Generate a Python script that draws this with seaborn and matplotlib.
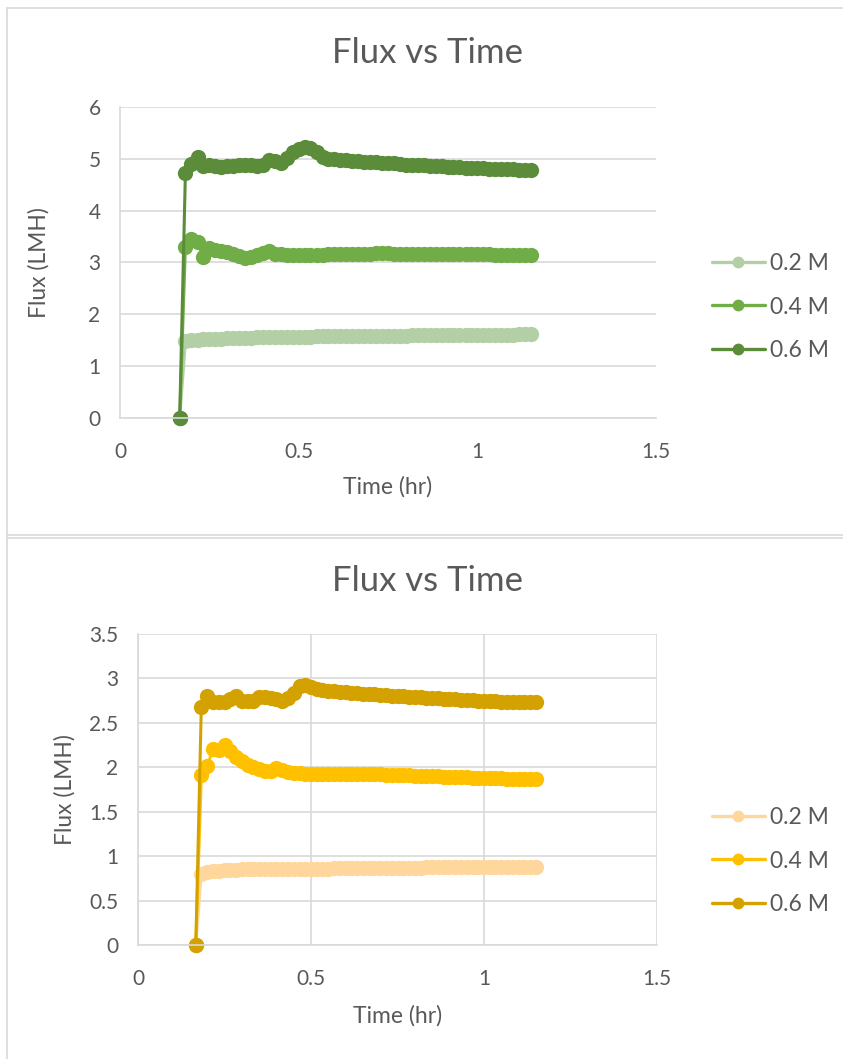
import seaborn as sns
import matplotlib.pyplot as plt
from matplotlib.lines import Line2D
import pandas as pd

# time (hr), one reading per minute from 10 to 69 min
time_hr = [0.167, 0.183, 0.200, 0.217, 0.233, 0.250, 0.267, 0.283, 0.300, 0.317,
           0.333, 0.350, 0.367, 0.383, 0.400, 0.417, 0.433, 0.450, 0.467, 0.483,
           0.500, 0.517, 0.533, 0.550, 0.567, 0.583, 0.600, 0.617, 0.633, 0.650,
           0.667, 0.683, 0.700, 0.717, 0.733, 0.750, 0.767, 0.783, 0.800, 0.817,
           0.833, 0.850, 0.867, 0.883, 0.900, 0.917, 0.933, 0.950, 0.967, 0.983,
           1.000, 1.017, 1.033, 1.050, 1.067, 1.083, 1.100, 1.117, 1.133, 1.150]

labels = ['0.2 M', '0.4 M', '0.6 M']

# top chart (green)
top_02 = [0, 1.48, 1.50, 1.51, 1.52, 1.52, 1.53, 1.53, 1.54, 1.54,
          1.55, 1.55, 1.55, 1.56, 1.56, 1.56, 1.56, 1.57, 1.57, 1.57,
          1.57, 1.57, 1.57, 1.58, 1.58, 1.58, 1.58, 1.58, 1.58, 1.58,
          1.58, 1.59, 1.59, 1.59, 1.59, 1.59, 1.59, 1.59, 1.59, 1.60,
          1.60, 1.60, 1.60, 1.60, 1.60, 1.60, 1.60, 1.61, 1.61, 1.61,
          1.61, 1.61, 1.61, 1.61, 1.61, 1.61, 1.61, 1.62, 1.62, 1.62]
top_04 = [0, 3.30, 3.45, 3.40, 3.10, 3.28, 3.25, 3.23, 3.20, 3.17,
          3.13, 3.09, 3.11, 3.14, 3.18, 3.22, 3.17, 3.16, 3.15, 3.15,
          3.15, 3.15, 3.15, 3.15, 3.15, 3.16, 3.16, 3.16, 3.16, 3.17,
          3.17, 3.17, 3.17, 3.18, 3.18, 3.18, 3.17, 3.17, 3.17, 3.17,
          3.17, 3.17, 3.17, 3.17, 3.16, 3.16, 3.16, 3.16, 3.16, 3.16,
          3.16, 3.16, 3.16, 3.15, 3.15, 3.15, 3.15, 3.15, 3.15, 3.15]
top_06 = [0, 4.72, 4.90, 5.03, 4.87, 4.88, 4.86, 4.85, 4.86, 4.87,
          4.88, 4.88, 4.89, 4.86, 4.88, 4.98, 4.95, 4.92, 5.02, 5.13,
          5.19, 5.22, 5.20, 5.13, 5.03, 5.00, 4.99, 4.98, 4.97, 4.96,
          4.95, 4.94, 4.94, 4.93, 4.92, 4.91, 4.91, 4.90, 4.89, 4.89,
          4.88, 4.88, 4.87, 4.87, 4.86, 4.85, 4.85, 4.84, 4.83, 4.83,
          4.82, 4.82, 4.81, 4.81, 4.80, 4.80, 4.80, 4.79, 4.79, 4.79]

# bottom chart (yellow)
bot_02 = [0, 0.80, 0.82, 0.83, 0.83, 0.84, 0.84, 0.84, 0.85, 0.85,
          0.85, 0.85, 0.85, 0.86, 0.86, 0.86, 0.86, 0.86, 0.86, 0.86,
          0.86, 0.86, 0.86, 0.86, 0.87, 0.87, 0.87, 0.87, 0.87, 0.87,
          0.87, 0.87, 0.87, 0.87, 0.87, 0.87, 0.87, 0.87, 0.87, 0.87,
          0.88, 0.88, 0.88, 0.88, 0.88, 0.88, 0.88, 0.88, 0.88, 0.88,
          0.88, 0.88, 0.88, 0.88, 0.88, 0.88, 0.88, 0.88, 0.88, 0.88]
bot_04 = [0, 1.91, 2.01, 2.21, 2.19, 2.25, 2.18, 2.12, 2.07, 2.03,
          2.00, 1.98, 1.96, 1.96, 1.99, 1.97, 1.95, 1.94, 1.94, 1.93,
          1.93, 1.93, 1.93, 1.93, 1.93, 1.92, 1.92, 1.92, 1.92, 1.92,
          1.92, 1.92, 1.92, 1.91, 1.91, 1.91, 1.91, 1.91, 1.90, 1.90,
          1.90, 1.90, 1.90, 1.89, 1.89, 1.89, 1.89, 1.89, 1.88, 1.88,
          1.88, 1.88, 1.88, 1.88, 1.87, 1.87, 1.87, 1.87, 1.87, 1.87]
bot_06 = [0, 2.68, 2.80, 2.73, 2.73, 2.74, 2.77, 2.80, 2.75, 2.75,
          2.75, 2.79, 2.79, 2.78, 2.77, 2.75, 2.78, 2.84, 2.91, 2.93,
          2.90, 2.88, 2.87, 2.86, 2.86, 2.85, 2.85, 2.84, 2.84, 2.83,
          2.83, 2.82, 2.81, 2.81, 2.80, 2.80, 2.80, 2.79, 2.79, 2.79,
          2.78, 2.78, 2.78, 2.77, 2.77, 2.77, 2.76, 2.76, 2.76, 2.75,
          2.75, 2.75, 2.75, 2.74, 2.74, 2.74, 2.74, 2.73, 2.73, 2.73]

green = {'0.2 M': '#B2CFA5', '0.4 M': '#70AD47', '0.6 M': '#5A8C3A'}
yellow = {'0.2 M': '#FFD79C', '0.4 M': '#FFC000', '0.6 M': '#D4A200'}

sns.set_style('white')
plt.rcParams['font.family'] = ['Lato', 'DejaVu Sans']
txt = '#595959'
grid = '#D9D9D9'


def long_df(series):
    rows = []
    for lab, vals in zip(labels, series):
        for t, v in zip(time_hr, vals):
            rows.append({'Time': t, 'Flux': v, 'Conc': lab})
    return pd.DataFrame(rows)


fig = plt.figure(figsize=(8.43, 10.59), dpi=100)

# chart frames
fig.add_artist(Line2D([7/843, 1], [1-8/1059, 1-8/1059], color=grid, lw=1.2))
fig.add_artist(Line2D([7/843, 7/843], [1-8/1059, 0], color=grid, lw=1.2))
fig.add_artist(Line2D([7/843, 1], [1-535/1059, 1-535/1059], color=grid, lw=1.2))
fig.add_artist(Line2D([7/843, 1], [1-538/1059, 1-538/1059], color=grid, lw=1.2))

charts = [
    dict(series=[top_02, top_04, top_06], pal=green, rect=[120/843, 1-418/1059, 536/843, 311/1059],
         ymax=6, yticks=[0, 1, 2, 3, 4, 5, 6], vgrid=False, title_y=1-53/1059,
         leg_y=1-307/1059, ylab_x=-0.132, xlab_y=-0.186),
    dict(series=[bot_02, bot_04, bot_06], pal=yellow, rect=[138/843, 1-945/1059, 519/843, 311/1059],
         ymax=3.5, yticks=[0, 0.5, 1, 1.5, 2, 2.5, 3, 3.5], vgrid=True, title_y=1-581/1059,
         leg_y=1-861/1059, ylab_x=-0.121, xlab_y=-0.193),
]

for c in charts:
    ax = fig.add_axes(c['rect'])
    df = long_df(c['series'])
    sns.lineplot(data=df, x='Time', y='Flux', hue='Conc', hue_order=labels, palette=c['pal'],
                 marker='o', markersize=11, markeredgewidth=0, lw=2.2, estimator=None,
                 sort=False, legend=False, ax=ax, clip_on=False)
    ax.set_xlim(0, 1.5)
    ax.set_ylim(0, c['ymax'])
    ax.set_xticks([0, 0.5, 1, 1.5])
    ax.set_xticklabels(['0', '0.5', '1', '1.5'])
    ax.set_yticks(c['yticks'])
    ax.set_yticklabels([f'{v:g}' for v in c['yticks']])
    ax.tick_params(length=0, labelsize=15, labelcolor=txt)
    ax.tick_params(axis='y', pad=14)
    ax.tick_params(axis='x', pad=17)
    ax.grid(axis='y', color=grid, lw=1.2)
    if c['vgrid']:
        ax.grid(axis='x', color=grid, lw=1.2)
    ax.set_axisbelow(True)
    for s in ['top', 'right']:
        ax.spines[s].set_visible(False)
    for s in ['left', 'bottom']:
        ax.spines[s].set_color(grid)
        ax.spines[s].set_linewidth(1.2)
    ax.set_xlabel('Time (hr)', fontsize=16.5, color=txt)
    ax.set_ylabel('Flux (LMH)', fontsize=16.5, color=txt)
    ax.xaxis.set_label_coords(0.5, c['xlab_y'])
    ax.yaxis.set_label_coords(c['ylab_x'], 0.5)
    fig.text(428/843, c['title_y'], 'Flux vs Time', fontsize=25, color=txt, ha='center', va='center')

    handles = [Line2D([], [], color=c['pal'][l], lw=2.4, marker='o', markersize=8.5, markeredgewidth=0)
               for l in labels]
    fig.legend(handles, labels, loc='center left', bbox_to_anchor=(712/843, c['leg_y']),
               bbox_transform=fig.transFigure, frameon=False, fontsize=16.5, labelcolor=txt,
               handlelength=2.3, handletextpad=0.25, labelspacing=0.98, borderpad=0, borderaxespad=0)

fig.savefig('out.png', dpi=100)
